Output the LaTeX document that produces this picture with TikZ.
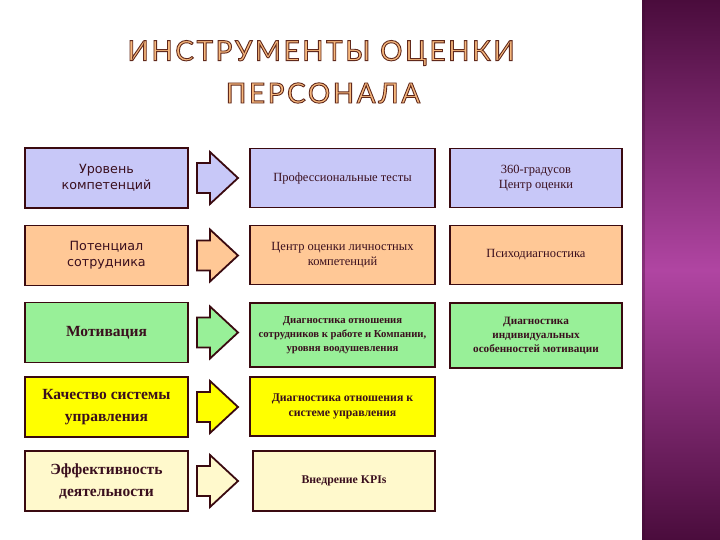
\documentclass[tikz,border=0pt]{standalone}
\usepackage{fontspec}
\setmainfont{Liberation Serif}
\newfontfamily\boxsans{DejaVu Sans}
\newfontfamily\titlefont[LetterSpace=9, FakeBold=3.2]{Lato}
\definecolor{edge}{HTML}{3A0A10}
\definecolor{txt}{HTML}{3A0F1E}
\definecolor{lav}{HTML}{C8C8F8}
\definecolor{org}{HTML}{FFC896}
\definecolor{grn}{HTML}{98F098}
\definecolor{yel}{HTML}{FFFF00}
\definecolor{crm}{HTML}{FFF9CC}
\definecolor{bandA}{HTML}{4A0C3C}
\definecolor{bandB}{HTML}{B045A2}
\newcommand{\outlinetext}[1]{\special{pdf:bcolor [0.97 0.72 0.49] [0.38 0.16 0.11]}#1\special{pdf:ecolor}}
\tikzset{
  box/.style={draw=edge, line width=1.8pt, inner sep=2pt, align=center, text=txt},
  lbox/.style={box, minimum width=163pt, minimum height=60pt},
  mbox/.style={box, minimum width=185pt, minimum height=59pt, font=\fontsize{12.5}{15}\selectfont},
  rbox/.style={box, minimum width=172pt, minimum height=59pt, font=\fontsize{12.5}{15}\selectfont},
  sbold/.style={font=\bfseries\fontsize{15.5}{22}\selectfont},
  ssans/.style={font=\boxsans\fontsize{12.7}{16}\selectfont},
  arr/.style={draw=edge, line width=1.8pt, line join=miter},
  ttl/.style={font=\titlefont\fontsize{28}{28}\selectfont},
}
\newcommand{\rowarrow}[2]{%
  \filldraw[arr, fill=#2] (197,#1-15) -- (210,#1-15) -- (210,#1-26) -- (238,#1) -- (210,#1+26) -- (210,#1+15) -- (197,#1+15) -- cycle;}
\begin{document}
\begin{tikzpicture}[x=1pt,y=-1pt]
\useasboundingbox (0,0) rectangle (720,540);
\fill[white] (0,0) rectangle (720,540);
\shade[top color=bandA, bottom color=bandA, middle color=bandB] (642,0) rectangle (720,540);
\fill[bandA!80!black, opacity=0.35] (642,0) rectangle (645,540);

\node[ttl] (t1) at (321,53) {\outlinetext{ИНСТРУМЕНТЫ ОЦЕНКИ}};
\node[ttl] (t2) at (323,93) {\outlinetext{ПЕРСОНАЛА}};

% left column
\node[lbox, fill=lav, ssans] (l1) at (106.5,178) {Уровень\\компетенций};
\node[lbox, fill=org, ssans] (l2) at (106.5,255.5) {Потенциал\\сотрудника};
\node[lbox, fill=grn, sbold] (l3) at (106.5,332.5) {Мотивация};
\node[lbox, fill=yel, sbold] (l4) at (106.5,407) {Качество системы\\управления};
\node[lbox, fill=crm, sbold] (l5) at (106.5,481) {Эффективность\\деятельности};

% arrows
\rowarrow{178}{lav}
\rowarrow{255.5}{org}
\rowarrow{332.5}{grn}
\rowarrow{407}{yel}
\rowarrow{481}{crm}

% middle column
\node[mbox, fill=lav] (m1) at (342.5,178) {Профессиональные тесты};
\node[mbox, fill=org] (m2) at (342.5,255) {Центр оценки личностных\\компетенций};
\node[mbox, fill=grn, minimum height=64pt, font=\bfseries\fontsize{10.7}{14}\selectfont] (m3) at (342.5,335) {Диагностика отношения\\сотрудников к работе и Компании,\\уровня воодушевления};
\node[mbox, fill=yel, font=\bfseries\fontsize{11.8}{15}\selectfont] (m4) at (342.5,406.5) {Диагностика отношения к\\системе управления};
\node[mbox, fill=crm, minimum width=182pt, minimum height=60pt, font=\bfseries\fontsize{11.8}{14}\selectfont] (m5) at (344,481) {Внедрение KPIs};

% right column
\node[rbox, fill=lav] (r1) at (536,178) {360-градусов\\Центр оценки};
\node[rbox, fill=org] (r2) at (536,255) {Психодиагностика};
\node[rbox, fill=grn, minimum height=65pt, font=\bfseries\fontsize{11.2}{14}\selectfont] (r3) at (536,335.5) {Диагностика\\индивидуальных\\особенностей мотивации};
\end{tikzpicture}
\end{document}
